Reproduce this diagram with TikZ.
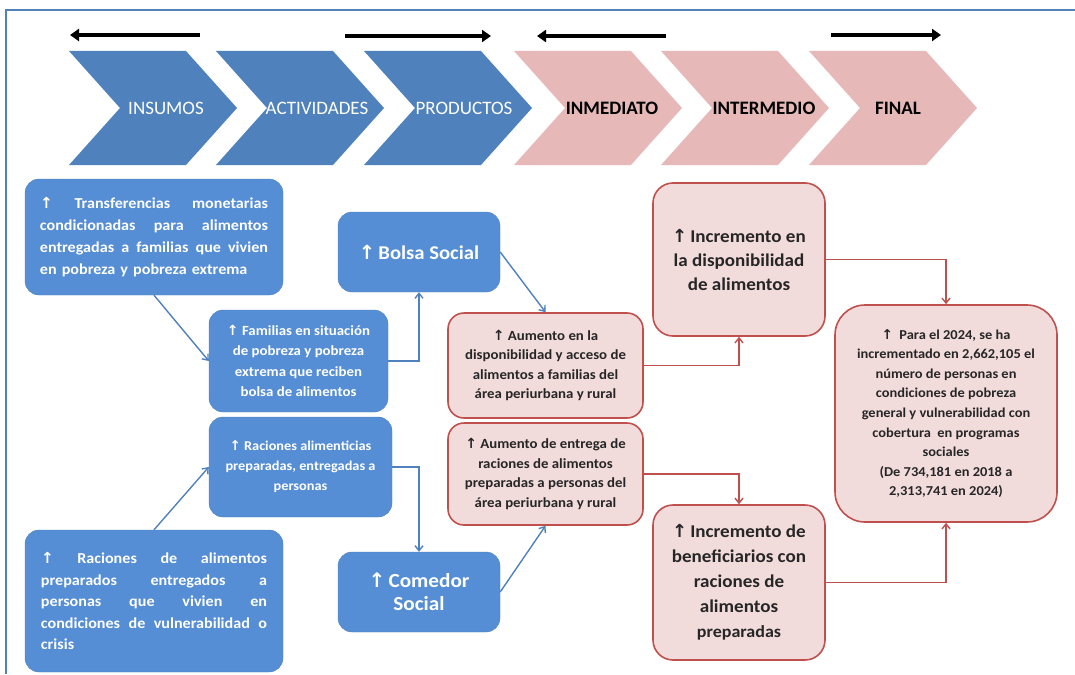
\documentclass[tikz,border=0pt]{standalone}
\usepackage{fontspec}
\setmainfont[FakeStretch=1.06]{Carlito}
\newfontfamily\chevfont{Carlito}
\newfontfamily\arrowfont{DejaVu Sans}
\usetikzlibrary{arrows.meta,positioning}

\definecolor{chevblue}{RGB}{79,129,189}
\definecolor{chevpink}{RGB}{230,185,184}
\definecolor{boxblue}{RGB}{85,142,213}
\definecolor{boxpink}{RGB}{242,220,219}
\definecolor{boxred}{RGB}{192,80,77}

\newcommand{\upar}{{\arrowfont\char"2191}}
% one justified line of a given width
\newcommand{\jrow}[2]{\makebox[#1][s]{\spaceskip=.25em plus 1fil\relax #2}\\}

\tikzset{
  bluebox/.style={draw=chevblue, fill=boxblue, rounded corners=14pt, text=white,
    align=center, inner sep=0pt},
  pinkbox/.style={draw=boxred, line width=1.6pt, fill=boxpink, rounded corners=16pt,
    text=black!85, align=center, inner sep=0pt},
  blueconn/.style={draw=chevblue, line width=1.4pt, -{Straight Barb[length=5pt,width=8pt]}},
  redconn/.style={draw=boxred, line width=1.4pt, -{Straight Barb[length=5pt,width=8pt]}},
  bigarrow/.style={line width=3.5pt, -{Triangle[length=9pt,width=12pt]}},
}

\begin{document}
\begin{tikzpicture}[x=1pt, y=-1pt]
  \useasboundingbox (0,0) rectangle (1075,674);
  % frame
  \draw[chevblue, line width=2pt] (1075,10) -- (6,10) -- (6,674);

  % arrows over the chevrons
  \coordinate (a1s) at (200,35); \coordinate (a1e) at (70,35);
  \coordinate (a2s) at (345,36); \coordinate (a2e) at (491,36);
  \coordinate (a3s) at (666,36); \coordinate (a3e) at (537,36);
  \coordinate (a4s) at (831,35); \coordinate (a4e) at (941,35);
  \draw[bigarrow] (a1s) -- (a1e);
  \draw[bigarrow] (a2s) -- (a2e);
  \draw[bigarrow] (a3s) -- (a3e);
  \draw[bigarrow] (a4s) -- (a4e);

  % chevrons
  \foreach \x/\c/\t in {69/97/INSUMOS, 216/101/ACTIVIDADES, 364/100/PRODUCTOS} {
    \fill[chevblue] (\x,51) -- ++(117,0) -- ++(51,57) -- ++(-51,57) -- ++(-117,0) -- ++(51,-57) -- cycle;
    \node[text=white, font=\chevfont\fontsize{19}{20}\selectfont] at (\x+\c,108) {\t};
  }
  \foreach \x/\c/\t in {514/98/INMEDIATO, 661/103/INTERMEDIO, 809/89/FINAL} {
    \fill[chevpink] (\x,51) -- ++(117,0) -- ++(51,57) -- ++(-51,57) -- ++(-117,0) -- ++(51,-57) -- cycle;
    \node[text=black, font=\chevfont\fontsize{19}{20}\selectfont\bfseries] at (\x+\c,108) {\t};
  }

  % blue boxes
  \node[bluebox, minimum width=258pt, minimum height=116pt, text width=228pt, align=left,
    font=\fontsize{15.2}{22}\selectfont\bfseries] (transf) at (154,237)
    {\jrow{228pt}{\upar{} Transferencias monetarias}\jrow{228pt}{condicionadas para alimentos}\jrow{228pt}{entregadas a familias que vivien}en pobreza y pobreza extrema};
  \node[bluebox, minimum width=179pt, minimum height=102pt,
    font=\fontsize{14}{20.5}\selectfont\bfseries] (famil) at (298.5,361)
    {\upar\ Familias en situación\\de pobreza y pobreza\\extrema que reciben\\bolsa de alimentos};
  \node[bluebox, minimum width=162pt, minimum height=80pt,
    font=\fontsize{19.5}{23}\selectfont\bfseries] (bolsa) at (419,252)
    {\upar\,Bolsa Social};
  \node[bluebox, minimum width=183pt, minimum height=100pt,
    font=\fontsize{13.5}{20}\selectfont\bfseries] (racal) at (300.5,467)
    {\upar\ Raciones alimenticias\\preparadas, entregadas a\\personas};
  \node[bluebox, minimum width=258pt, minimum height=142pt, text width=226pt, align=left,
    font=\fontsize{15.2}{21.5}\selectfont\bfseries] (racprep) at (154,601)
    {\jrow{226pt}{\upar{} Raciones de alimentos}\jrow{226pt}{preparados entregados a}\jrow{226pt}{personas que vivien en}\jrow{226pt}{condiciones de vulnerabilidad o}crisis};
  \node[bluebox, minimum width=162pt, minimum height=80pt,
    font=\fontsize{20}{23}\selectfont\bfseries] (comedor) at (419,592)
    {\upar\,Comedor\\Social};

  % pink boxes
  \node[pinkbox, minimum width=195pt, minimum height=105pt,
    font=\fontsize{14}{19.5}\selectfont\bfseries] (aumdisp) at (545.5,365.5)
    {\upar\ Aumento en la\\disponibilidad y acceso de\\alimentos a familias del\\área periurbana y rural};
  \node[pinkbox, minimum width=195pt, minimum height=102pt,
    font=\fontsize{14}{19.5}\selectfont\bfseries] (aument) at (545.5,474)
    {\upar\ Aumento de entrega de\\raciones de alimentos\\preparadas a personas del\\área periurbana y rural};
  \node[pinkbox, minimum width=172pt, minimum height=153pt, rounded corners=20pt,
    font=\fontsize{18}{24}\selectfont\bfseries] (incdisp) at (739,259.5)
    {\upar\,Incremento en\\la disponibilidad\\de alimentos};
  \node[pinkbox, minimum width=172pt, minimum height=155pt, rounded corners=20pt,
    font=\fontsize{18}{25}\selectfont\bfseries] (incben) at (739,582.5)
    {\upar\,Incremento de\\beneficiarios con\\raciones de\\alimentos\\{\fontsize{17}{25}\selectfont preparadas}};
  \node[pinkbox, minimum width=222pt, minimum height=217pt, rounded corners=30pt,
    font=\fontsize{13.6}{19.6}\selectfont\bfseries] (final) at (946,413.5)
    {\upar\ \ Para el 2024, se ha\\incrementado en 2,662,105 el\\número de personas en\\condiciones de pobreza\\general y vulnerabilidad con\\cobertura\ \ en programas\\sociales\\(De 734,181 en 2018 a\\2,313,741 en 2024)};

  % connectors
  \draw[blueconn] (transf.south) -- (famil.west);
  \draw[blueconn] (famil.east) -| (bolsa.south);
  \draw[blueconn] (bolsa.east) -- (aumdisp.north);
  \draw[blueconn] (racprep.north) -- (racal.west);
  \draw[blueconn] (racal.east) -| (comedor.north);
  \draw[blueconn] (comedor.east) -- (aument.south);
  \draw[redconn] (aumdisp.east) -| (incdisp.south);
  \draw[redconn] (aument.east) -| (incben.north);
  \draw[redconn] (incdisp.east) -| (final.north);
  \draw[redconn] (incben.east) -| (final.south);
\end{tikzpicture}
\end{document}
